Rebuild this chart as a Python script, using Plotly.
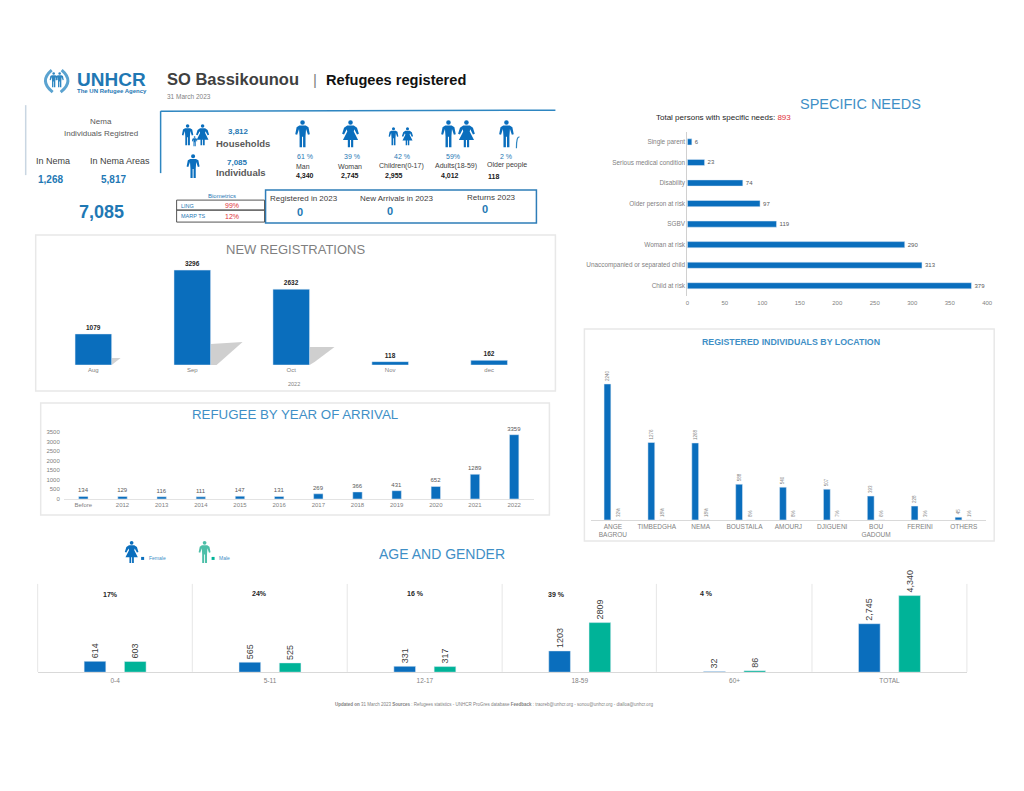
import plotly.graph_objects as go

# ---------- data ----------
need_labels = ["Single parent", "Serious medical condition", "Disability", "Older person at risk", "SGBV",
               "Woman at risk", "Unaccompanied or separated child", "Child at risk"]
need_values = [6, 23, 74, 97, 119, 290, 313, 379]

loc_labels = ["ANGE<br>BAGROU", "TIMBEDGHA", "NEMA", "BOUSTAILA", "AMOURJ", "DJIGUENI", "BOU<br>GADOUM", "FEREINI", "OTHERS"]
loc_values = [2240, 1276, 1268, 588, 540, 507, 393, 228, 45]
loc_share = [0.32, 0.18, 0.18, 0.08, 0.08, 0.07, 0.06, 0.03, 0.01]
loc_share_text = ["32%", "18%", "18%", "8%", "8%", "7%", "6%", "3%", "1%"]

reg_months = ["Aug", "Sep", "Oct", "Nov", "dec"]
reg_values = [1079, 3296, 2632, 118, 162]

year_labels = ["Before", "2012", "2013", "2014", "2015", "2016", "2017", "2018", "2019", "2020", "2021", "2022"]
year_values = [134, 129, 116, 111, 147, 131, 269, 366, 431, 652, 1289, 3359]
year_ticks = [0, 500, 1000, 1500, 2000, 2500, 3000, 3500]

age_labels = ["0-4", "5-11", "12-17", "18-59", "60+", "TOTAL"]
age_female = [614, 565, 331, 1203, 32, 2745]
age_male = [603, 525, 317, 2809, 86, 4340]
age_female_text = ["614", "565", "331", "1203", "32", "2,745"]
age_male_text = ["603", "525", "317", "2809", "86", "4,340"]
need_ticks = [0, 50, 100, 150, 200, 250, 300, 350, 400]

# ---------- styles ----------
W, H = 1024, 791
BLUE = "#0A6EBD"
GREEN = "#00B398"
TITLE = "#3F8FC6"
GREY = "#7F7F7F"
FONT = "Liberation Sans"

def px(v):
    return ((v - 2.3) / 0.9927) / W

def py(v):
    return 1 - ((v - 2.8) / 0.9929) / H

fig = go.Figure()

# ---------- traces ----------
fig.add_bar(x=need_values, y=need_labels, orientation="h", xaxis="x", yaxis="y", width=0.3,
            marker_color=BLUE, text=need_values, textposition="outside",
            textfont=dict(size=6, color="#595959"), cliponaxis=False, constraintext="none")

fig.add_bar(x=loc_labels, y=loc_values, xaxis="x2", yaxis="y2", width=0.155, offset=-0.20,
            marker_color=BLUE, text=loc_values, textposition="outside", textangle=-90,
            textfont=dict(size=4.5, color=GREY), cliponaxis=False, constraintext="none")
fig.add_bar(x=loc_labels, y=loc_share, xaxis="x2", yaxis="y2", width=0.155, offset=0.05,
            marker_color=BLUE, text=loc_share_text, textposition="outside", textangle=-90,
            textfont=dict(size=4.5, color=GREY), cliponaxis=False, constraintext="none")

fig.add_bar(x=reg_months, y=reg_values, xaxis="x3", yaxis="y3", width=0.37,
            marker_color=BLUE, text=reg_values, textposition="outside",
            textfont=dict(size=6.5, color="#262626", weight="bold"), cliponaxis=False, constraintext="none")

fig.add_bar(x=year_labels, y=year_values, xaxis="x4", yaxis="y4", width=0.24,
            marker_color=BLUE, text=year_values, textposition="outside",
            textfont=dict(size=6, color="#595959"), cliponaxis=False, constraintext="none")

fig.add_bar(x=age_labels, y=age_female, xaxis="x5", yaxis="y5", width=0.14, offset=-0.2,
            marker_color=BLUE, text=age_female_text, textposition="outside", textangle=-90,
            textfont=dict(size=9, color="#404040"), cliponaxis=False, constraintext="none")
fig.add_bar(x=age_labels, y=age_male, xaxis="x5", yaxis="y5", width=0.14, offset=0.06,
            marker_color=GREEN, text=age_male_text, textposition="outside", textangle=-90,
            textfont=dict(size=9, color="#404040"), cliponaxis=False, constraintext="none")

# ---------- axes ----------
tick = dict(size=6, color=GREY, family=FONT)
none_ax = dict(showgrid=False, zeroline=False, showline=False, ticks="")
fig.update_layout(
    xaxis=dict(domain=[px(688), px(988)], range=[0, 400], anchor="y", tickvals=need_ticks, tickfont=tick,
               ticklabelstandoff=2, **none_ax),
    yaxis=dict(domain=[py(296), py(131.5)], anchor="x", autorange="reversed", tickfont=dict(size=6.4, color=GREY, family=FONT),
               showgrid=False, zeroline=False, showline=True, linecolor="#D0D0D0", ticks=""),
    xaxis2=dict(domain=[px(591.5), px(986.6)], anchor="y2", tickfont=dict(size=6.5, color=GREY, family=FONT), tickangle=0,
                showgrid=False, zeroline=False, showline=True, linecolor="#D9D9D9", ticks=""),
    yaxis2=dict(domain=[py(520), py(360)], range=[0, 2635], anchor="x2", visible=False),
    xaxis3=dict(domain=[px(44.2), px(539.2)], anchor="y3", tickfont=tick, tickangle=0, **none_ax),
    yaxis3=dict(domain=[py(365), py(255)], range=[0, 3817], anchor="x3", visible=False),
    xaxis4=dict(domain=[px(64.1), px(534.3)], anchor="y4", tickfont=tick, tickangle=0, showgrid=False,
                zeroline=False, showline=True, linecolor="#E3E3E3", ticks=""),
    yaxis4=dict(domain=[py(499), py(432)], range=[0, 3500], anchor="x4", tickvals=year_ticks, tickfont=tick,
                ticklabelstandoff=3, **none_ax),
    xaxis5=dict(domain=[px(38), px(967.7)], anchor="y5", tickfont=dict(size=6.5, color=GREY, family=FONT), tickangle=0,
                showgrid=False, zeroline=False, showline=True, linecolor="#D9D9D9", ticks="", ticklabelstandoff=2),
    yaxis5=dict(domain=[py(672.3), py(584)], range=[0, 5000], anchor="x5", visible=False),
)

# ---------- decoration ----------
shapes = []

def rect(x0, y0, x1, y1, line="#E8E8E8", width=1.5, fill=None, layer="below"):
    shapes.append(dict(type="rect", xref="paper", yref="paper", x0=px(x0), x1=px(x1), y0=py(y0), y1=py(y1),
                       line=dict(color=line, width=width), fillcolor=fill, layer=layer))

def line(x0, y0, x1, y1, color="#E3E3E3", width=1.0):
    shapes.append(dict(type="line", xref="paper", yref="paper", x0=px(x0), x1=px(x1), y0=py(y0), y1=py(y1),
                       line=dict(color=color, width=width), layer="below"))

def poly(points, color, layer="below"):
    d = "M " + " L ".join(f"{px(a):.5f} {py(b):.5f}" for a, b in points) + " Z"
    shapes.append(dict(type="path", xref="paper", yref="paper", path=d, fillcolor=color,
                       line=dict(width=0), layer=layer))

def curve(x0, y0, cx, cy, x1, y1, color, width):
    d = f"M {px(x0):.5f} {py(y0):.5f} Q {px(cx):.5f} {py(cy):.5f} {px(x1):.5f} {py(y1):.5f}"
    shapes.append(dict(type="path", xref="paper", yref="paper", path=d, line=dict(color=color, width=width)))

MAN = [(-.12, .2), (.12, .2), (.22, .26), (.27, .52), (.2, .54), (.13, .33), (.11, .6), (.11, 1), (.02, 1), (.02, .62),
       (-.02, .62), (-.02, 1), (-.11, 1), (-.11, .6), (-.13, .33), (-.2, .54), (-.27, .52), (-.22, .26)]
WOMAN = [(-.12, .2), (.12, .2), (.24, .28), (.31, .5), (.24, .53), (.14, .34), (.12, .42), (.28, .74), (.1, .74), (.1, 1),
         (.02, 1), (.02, .74), (-.02, .74), (-.02, 1), (-.1, 1), (-.1, .74), (-.28, .74), (-.12, .42), (-.14, .34),
         (-.24, .53), (-.31, .5), (-.24, .28)]

def person(cx, top, h, kind=MAN, color=BLUE):
    r = 0.085 * h
    shapes.append(dict(type="circle", xref="paper", yref="paper", x0=px(cx - r), x1=px(cx + r),
                       y0=py(top + 2 * r), y1=py(top), fillcolor=color, line=dict(width=0)))
    poly([(cx + a * h, top + b * h) for a, b in kind], color, layer="above")

# panel frames
rect(36, 235, 556, 391)
rect(41, 403, 550, 515)
rect(585, 329, 995, 541)

# shadows behind the registration bars
poly([(112, 358), (121, 358), (112, 365)], "#D2D2D2")
poly([(211, 344), (243, 342), (217, 365), (211, 365)], "#CFCFCF")
poly([(310, 347), (335, 347), (315, 362), (310, 365)], "#CFCFCF")

# age group separators
for xv in [38, 192.7, 347.7, 502.7, 657, 812.7, 967.7]:
    line(xv, 584, xv, 672, "#E6E6E6", 1)

# header frames
line(26, 105, 26, 175, "#C9D6E2", 1.5)
line(161, 111, 161, 173, "#2E86C1", 1.5)
line(161, 111, 556, 110, "#2E86C1", 1.5)
rect(266, 190, 537, 223, line="#2E7DB8", width=1.5)
rect(177, 200, 265, 210, line="#555555", width=1)
rect(177, 210, 265, 222, line="#555555", width=1)

# logo
curve(52, 70, 39, 81, 53, 92, "#5BA3D0", 3)
curve(62, 70, 75, 81, 61, 92, "#5BA3D0", 3)
person(54, 72, 15, color="#2E86C1")
person(60, 72, 15, color="#2E86C1")

# population icons
person(188, 124, 21); person(203, 124, 21, WOMAN); person(195, 136, 10)
person(193.5, 154, 24)
person(303, 120, 27)
person(351, 120, 27, WOMAN)
person(394, 127, 18); person(408, 127, 18, WOMAN)
person(449, 120, 27); person(467, 120, 27, WOMAN)
person(507, 120, 27)
curve(517, 148, 517, 136, 520, 137, "#2E86C1", 1.2)

# legend icons
person(132, 541, 22, WOMAN)
person(205, 541, 22, MAN, "#4DBFA8")
rect(141.5, 557, 144.5, 560, line=BLUE, width=0, fill=BLUE)
rect(212, 557, 215, 560, line=GREEN, width=0, fill=GREEN)

fig.update_layout(shapes=shapes)

# ---------- text ----------
notes = []

def note(x, y, text, size=7, color="#404040", bold=False, anchor="center"):
    notes.append(dict(xref="paper", yref="paper", x=px(x), y=py(y), text=text, showarrow=False, xanchor=anchor,
                      yanchor="middle", xshift=0, font=dict(size=size, color=color, family=FONT, weight="bold" if bold else "normal")))

HB = "#1F78B4"
note(75, 79, "UNHCR", 19, "#1F78B4", True, "left")
note(75, 90.5, "The UN Refugee Agency", 6, "#1F78B4", True, "left")
note(165, 79, "SO Bassikounou", 16.5, "#404040", True, "left")
note(315, 79.5, "|", 15, "#7F7F7F")
note(324, 80, "Refugees registered", 14.6, "#111111", True, "left")
note(165, 96, "31 March 2023", 6.5, GREY, False, "left")

note(101, 121, "Nema", 8, "#595959")
note(101, 133, "Individuals Registred", 8, "#595959")
note(53, 161, "In Nema", 9, "#404040")
note(120, 161, "In Nema Areas", 9, "#404040")
note(51, 179, "1,268", 10, HB, True)
note(114, 179, "5,817", 10, HB, True)
note(102, 212, "7,085", 18, HB, True)

note(239, 131, "3,812", 8, HB, True)
note(243, 143, "Households", 9.5, "#595959", True)
note(238, 162, "7,085", 8, HB, True)
note(241, 172, "Individuals", 9.5, "#595959", True)

for x, y, t in [(305, 156, "61 %"), (352, 156, "39 %"), (403, 156, "42 %"), (454, 156, "59%"), (507, 156, "2 %")]:
    note(x, y, t, 7, HB)
for x, y, t in [(303, 166, "Man"), (350, 166, "Woman"), (402, 166, "Children(0-17)"), (457, 166, "Adults(18-59)"), (508, 165, "Older people")]:
    note(x, y, t, 7, "#404040")
for x, t in [(305, "4,340"), (350, "2,745"), (395, "2,955"), (451, "4,012"), (494, "118")]:
    note(x, 176, t, 7, "#202020", True)

note(222, 196, "Biometrics", 6, HB)
note(179, 205.5, "LING", 5.5, HB, False, "left")
note(179, 216, "MARP TS", 5.5, HB, False, "left")
note(232, 205.5, "99%", 7, "#E0303A")
note(232, 216, "12%", 7, "#E0303A")

note(304, 198, "Registered in 2023", 8, "#404040")
note(300, 212, "0", 11, HB, True)
note(397, 198, "New Arrivals in 2023", 8, "#404040")
note(391, 211, "0", 11, HB, True)
note(492, 197, "Returns 2023", 8, "#404040")
note(486, 209, "0", 11, HB, True)

note(861, 104, "SPECIFIC NEEDS", 14.5, TITLE)
note(655, 117, 'Total persons with specific needs: <span style="color:#E0303A">893</span>', 8, "#262626", False, "left")
note(792, 342, "REGISTERED INDIVIDUALS BY LOCATION", 8.8, TITLE, True)
note(296, 249, "NEW REGISTRATIONS", 13, GREY)
note(294, 384, "2022", 5.5, GREY)
note(295, 415, "REFUGEE BY YEAR OF ARRIVAL", 13.3, TITLE)
note(443, 554, "AGE AND GENDER", 14, TITLE)
note(147, 558.5, "Female", 5, "#3F8FC6", False, "left")
note(217, 558.5, "Male", 5, "#3F8FC6", False, "left")

for x, y, t in [(111, 595, "17%"), (260, 594, "24%"), (416, 594, "16 %"), (557, 595, "39 %"), (707, 594, "4 %")]:
    note(x, y, t, 7, "#262626", True)

note(495, 705, "<b>Updated on</b> 31 March 2023 <b>Sources</b> : Refugees statistics - UNHCR ProGres database <b>Feedback</b> : traoreb@unhcr.org - sonou@unhcr.org - dialloa@unhcr.org", 4.5, GREY)

fig.update_layout(
    annotations=notes,
    width=W, height=H, autosize=False,
    margin=dict(l=0, r=0, t=0, b=0),
    paper_bgcolor="white", plot_bgcolor="white",
    barmode="overlay", showlegend=False,
    font=dict(family=FONT),
)

fig.write_html("out.html", post_script="document.body.style.margin='0';",
               config=dict(displayModeBar=False))
